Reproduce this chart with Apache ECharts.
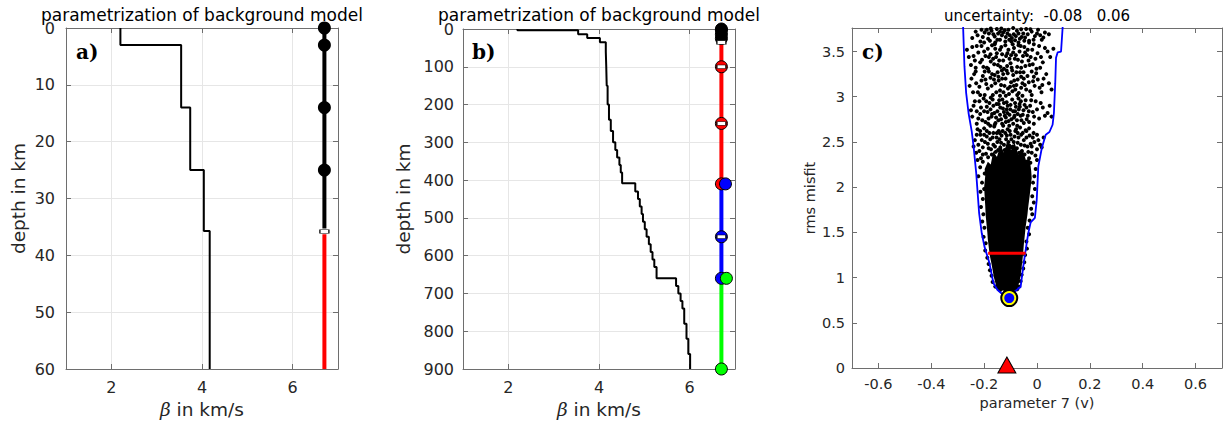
<!DOCTYPE html>
<html><head><meta charset="utf-8">
<script src="https://cdn.jsdelivr.net/npm/echarts@6/dist/echarts.min.js"></script>
<style>html,body{margin:0;padding:0;background:#fff}#c{width:1225px;height:427px}</style>
</head><body><div id="c"></div>
<script>
// ---------- panel a data ----------
const aTops = [0, 3, 14, 25, 35.7];
const aVel = [2.2, 3.54, 3.74, 4.04, 4.17];
const aBottom = 60;
const markX = 6.7;
const aNodeDepths = [0, 3, 14, 25];
const aBoundary = [35.8];
const aBlackSpan = [0, 35.3];
const aRedSpan = [36.3, 60];
const aXTicks = [2, 4, 6];
const aYTicks = [0, 10, 20, 30, 40, 50, 60];

// ---------- panel b data ----------
const bTops = [0,3,14,24,35, 60,100,150,200,240, 270,300,320,340,360, 380,408,430,450,470, 490,510,530,550,570, 590,610,630,660,680, 700,720,740,780,820, 860];
const bVel  = [2.2,3.54,3.74,4.02,4.15, 4.16,4.17,4.19,4.22,4.26, 4.31,4.36,4.40,4.45,4.48, 4.51,4.80,4.86,4.90,4.94, 4.97,5.01,5.05,5.10,5.14, 5.18,5.22,5.27,5.70,5.75, 5.80,5.84,5.88,5.93,5.97, 6.01];
const bBottom = 900;
const bBlackSpan = [0, 35];
const bBlackNodes = [0, 3, 14, 25];
const bBoundary = [35.7];
const bRedSpan = [40, 410];
const bRedNodes = [100, 250, 410];
const bRedDash = [100, 250];
const bBlueSpan = [410, 660];
const bBlueNodes = [550, 660];
const bBlueDash = [550];
const bBlueShifted = [[6.79, 410]];
const bGreenSpan = [660, 900];
const bGreenNodes = [900];
const bGreenShifted = [[6.81, 660]];
const bXTicks = [2, 4, 6];
const bYTicks = [0, 100, 200, 300, 400, 500, 600, 700, 800, 900];

// ---------- panel c data ----------
const cXTicks = [-0.6, -0.4, -0.2, 0, 0.2, 0.4, 0.6];
const cYTicks = [0, 0.5, 1, 1.5, 2, 2.5, 3, 3.5];
const envelope = [[-0.2795,3.80],[-0.2795,3.766],[-0.2745,3.335],[-0.268,3.04],[-0.259,2.82],[-0.247,2.616],[-0.240,2.45],[-0.230,2.155],[-0.219,1.713],[-0.209,1.49],[-0.199,1.345],[-0.180,1.16],[-0.165,0.94],[-0.150,0.865],[-0.135,0.827],[-0.105,0.80],[-0.072,0.873],[-0.0705,0.884],[-0.062,0.895],[-0.052,1.124],[-0.039,1.38],[-0.033,1.49],[-0.024,1.61],[-0.008,1.66],[-0.001,1.86],[0.005,2.23],[0.018,2.43],[0.033,2.58],[0.047,2.61],[0.059,2.69],[0.064,2.82],[0.069,3.15],[0.072,3.43],[0.078,3.49],[0.091,3.50],[0.097,3.766],[0.097,3.80]];
const redBar = [[-0.185,1.27],[-0.043,1.27]];
const bestPoint = [[-0.105, 0.773]];
const truePoint = [[-0.114, 0]];
const corePoly = [[-0.150,0.86],[-0.163,1.0],[-0.172,1.15],[-0.179,1.25],[-0.186,1.42],[-0.188,1.5],[-0.194,1.68],[-0.196,1.8],[-0.2,2.0],[-0.196,2.12],[-0.198,2.2],[-0.186,2.28],[-0.175,2.25],[-0.165,2.4],[-0.152,2.33],[-0.138,2.47],[-0.125,2.38],[-0.112,2.52],[-0.098,2.41],[-0.085,2.49],[-0.07,2.36],[-0.055,2.42],[-0.042,2.3],[-0.028,2.32],[-0.022,2.18],[-0.02,2.1],[-0.026,1.95],[-0.028,1.9],[-0.034,1.76],[-0.036,1.7],[-0.043,1.56],[-0.045,1.5],[-0.05,1.36],[-0.053,1.25],[-0.058,1.12],[-0.063,1.0],[-0.075,0.86]];
const cloudTop = [[-0.232,3.72],[-0.205,3.66],[-0.19,3.74],[-0.178,3.62],[-0.165,3.69],[-0.152,3.75],[-0.14,3.63],[-0.128,3.71],[-0.118,3.66],[-0.108,3.74],[-0.097,3.61],[-0.088,3.69],[-0.076,3.73],[-0.065,3.64],[-0.052,3.7],[-0.041,3.75],[-0.03,3.62],[-0.02,3.72],[-0.008,3.67],[0.004,3.74],[0.018,3.63],[-0.214,3.61],[-0.158,3.6],[-0.112,3.7],[-0.07,3.6],[-0.135,3.755],[-0.182,3.7],[-0.045,3.655],[0.03,3.71],[-0.095,3.65]];
const cloudTop2 = [[-0.225,3.68],[-0.198,3.71],[-0.185,3.64],[-0.172,3.73],[-0.16,3.665],[-0.147,3.7],[-0.133,3.68],[-0.122,3.735],[-0.103,3.68],[-0.083,3.625],[-0.07,3.7],[-0.058,3.66],[-0.035,3.69],[-0.025,3.745],[-0.013,3.63],[0.0,3.7],[0.012,3.68],[0.024,3.655],[-0.12,3.61],[-0.15,3.63],[-0.2,3.6],[-0.09,3.76],[-0.06,3.745],[-0.175,3.755],[-0.21,3.74],[-0.048,3.62],[-0.105,3.63],[-0.14,3.72],[0.045,3.69],[-0.245,3.65],[-0.08,3.67],[-0.03,3.6]];
const cloudUpper = [[-0.265,3.52],[-0.24,3.45],[-0.228,3.56],[-0.215,3.38],[-0.2,3.5],[-0.19,3.32],[-0.182,3.44],[-0.17,3.57],[-0.162,3.36],[-0.152,3.48],[-0.143,3.4],[-0.135,3.55],[-0.125,3.31],[-0.117,3.45],[-0.108,3.52],[-0.1,3.37],[-0.092,3.58],[-0.084,3.42],[-0.075,3.33],[-0.066,3.5],[-0.057,3.39],[-0.048,3.55],[-0.038,3.46],[-0.028,3.35],[-0.018,3.52],[-0.006,3.42],[0.008,3.56],[0.022,3.38],[0.04,3.5],[0.062,3.53],[-0.208,3.41],[-0.158,3.53],[-0.113,3.34],[-0.07,3.57],[-0.032,3.4],[-0.002,3.31],[-0.25,3.35],[-0.132,3.47],[-0.09,3.49],[-0.175,3.39]];
const cloudUpper2 = [[-0.258,3.44],[-0.245,3.55],[-0.235,3.4],[-0.222,3.49],[-0.21,3.56],[-0.203,3.33],[-0.195,3.45],[-0.186,3.53],[-0.176,3.47],[-0.166,3.42],[-0.16,3.58],[-0.148,3.35],[-0.14,3.52],[-0.128,3.4],[-0.12,3.57],[-0.112,3.48],[-0.104,3.42],[-0.096,3.32],[-0.087,3.54],[-0.08,3.46],[-0.072,3.41],[-0.062,3.56],[-0.053,3.45],[-0.044,3.34],[-0.035,3.52],[-0.024,3.44],[-0.012,3.58],[0.002,3.48],[0.015,3.44],[0.03,3.54],[0.05,3.44],[-0.185,3.31],[-0.138,3.33],[-0.06,3.32],[-0.016,3.36],[0.012,3.32],[-0.232,3.32],[-0.155,3.44],[-0.098,3.46],[-0.045,3.49]];
const cloudMidHigh = [[-0.255,3.12],[-0.238,3.25],[-0.224,3.05],[-0.21,3.18],[-0.198,3.28],[-0.186,3.09],[-0.176,3.21],[-0.167,3.02],[-0.158,3.15],[-0.149,3.27],[-0.14,3.07],[-0.132,3.2],[-0.123,3.12],[-0.115,3.29],[-0.106,3.03],[-0.098,3.16],[-0.09,3.24],[-0.082,3.08],[-0.073,3.19],[-0.064,3.27],[-0.055,3.01],[-0.046,3.13],[-0.036,3.23],[-0.026,3.06],[-0.015,3.17],[-0.003,3.26],[0.01,3.1],[0.025,3.2],[0.045,3.15],[-0.192,3.14],[-0.145,3.18],[-0.11,3.09],[-0.078,3.13],[-0.05,3.2],[-0.128,3.25],[-0.16,3.24],[-0.094,3.29],[-0.02,3.02],[-0.23,3.15],[-0.06,3.1],[-0.118,3.01]];
const cloudMidHigh2 = [[-0.248,3.2],[-0.242,3.05],[-0.232,3.28],[-0.218,3.11],[-0.205,3.23],[-0.198,3.02],[-0.182,3.28],[-0.172,3.12],[-0.163,3.19],[-0.154,3.05],[-0.146,3.22],[-0.136,3.13],[-0.127,3.05],[-0.119,3.2],[-0.111,3.26],[-0.102,3.11],[-0.093,3.06],[-0.086,3.18],[-0.078,3.27],[-0.069,3.04],[-0.06,3.22],[-0.051,3.27],[-0.041,3.08],[-0.031,3.16],[-0.02,3.28],[-0.009,3.12],[0.003,3.19],[0.017,3.05],[0.035,3.25],[0.055,3.08],[-0.215,3.02],[-0.17,3.25],[-0.133,3.29],[-0.088,3.12],[-0.055,3.15],[-0.012,3.22],[0.02,3.13],[-0.14,3.01],[-0.195,3.19],[-0.075,3.02]];
const cloudMid = [[-0.25,2.85],[-0.235,2.95],[-0.222,2.76],[-0.212,2.88],[-0.202,2.98],[-0.195,2.72],[-0.187,2.83],[-0.18,2.93],[-0.172,2.78],[-0.165,2.9],[-0.157,2.71],[-0.15,2.84],[-0.143,2.96],[-0.136,2.75],[-0.129,2.87],[-0.122,2.79],[-0.115,2.94],[-0.108,2.73],[-0.101,2.86],[-0.094,2.97],[-0.087,2.77],[-0.08,2.89],[-0.073,2.81],[-0.066,2.92],[-0.059,2.74],[-0.051,2.85],[-0.043,2.96],[-0.035,2.79],[-0.026,2.9],[-0.016,2.83],[-0.005,2.95],[0.008,2.76],[0.022,2.88],[0.04,2.82],[0.055,2.78],[-0.175,2.99],[-0.14,2.8],[-0.112,2.82],[-0.09,2.7],[-0.07,2.98],[-0.125,2.93],[-0.155,2.77],[-0.1,2.91],[-0.062,2.79],[-0.04,2.88],[-0.19,2.89],[-0.215,2.81],[-0.03,2.72],[-0.118,2.72],[-0.083,2.84]];
const cloudMid2 = [[-0.245,2.78],[-0.24,2.9],[-0.228,2.84],[-0.218,2.95],[-0.207,2.74],[-0.2,2.84],[-0.192,2.95],[-0.183,2.76],[-0.176,2.86],[-0.168,2.97],[-0.161,2.82],[-0.153,2.92],[-0.146,2.74],[-0.139,2.88],[-0.131,2.97],[-0.125,2.83],[-0.118,2.77],[-0.111,2.9],[-0.104,2.8],[-0.097,2.75],[-0.09,2.84],[-0.083,2.93],[-0.076,2.74],[-0.069,2.86],[-0.061,2.95],[-0.054,2.8],[-0.047,2.91],[-0.039,2.75],[-0.031,2.84],[-0.022,2.96],[-0.011,2.78],[0.0,2.86],[0.014,2.93],[0.03,2.79],[0.048,2.9],[-0.132,2.7],[-0.16,2.69],[-0.075,2.68],[-0.05,2.71],[-0.105,2.68],[-0.185,2.7],[-0.012,2.7],[-0.228,2.7],[-0.145,2.92],[-0.065,2.89],[-0.115,2.86],[-0.085,2.79],[-0.17,2.81]];
const cloudLow = [[-0.24,2.45],[-0.228,2.58],[-0.218,2.4],[-0.209,2.52],[-0.2,2.65],[-0.193,2.37],[-0.186,2.48],[-0.18,2.6],[-0.174,2.42],[-0.168,2.55],[-0.162,2.67],[-0.156,2.39],[-0.15,2.5],[-0.145,2.62],[-0.139,2.44],[-0.134,2.57],[-0.128,2.68],[-0.122,2.41],[-0.117,2.53],[-0.111,2.64],[-0.105,2.46],[-0.1,2.58],[-0.094,2.38],[-0.088,2.5],[-0.082,2.62],[-0.076,2.43],[-0.07,2.55],[-0.064,2.66],[-0.057,2.4],[-0.05,2.52],[-0.043,2.63],[-0.036,2.45],[-0.028,2.57],[-0.02,2.38],[-0.01,2.5],[0.0,2.42],[0.012,2.47],[0.025,2.55],[-0.205,2.44],[-0.19,2.56],[-0.165,2.47],[-0.142,2.53],[-0.12,2.6],[-0.097,2.44],[-0.073,2.6],[-0.047,2.36],[-0.03,2.65],[-0.215,2.62],[-0.177,2.68],[-0.085,2.4],[-0.06,2.58],[-0.013,2.6],[-0.133,2.36],[-0.152,2.6]];
const cloudLow2 = [[-0.235,2.52],[-0.23,2.38],[-0.222,2.47],[-0.214,2.58],[-0.205,2.36],[-0.197,2.5],[-0.19,2.62],[-0.183,2.43],[-0.177,2.53],[-0.171,2.36],[-0.165,2.6],[-0.159,2.45],[-0.153,2.55],[-0.147,2.41],[-0.141,2.6],[-0.136,2.49],[-0.13,2.62],[-0.125,2.47],[-0.119,2.39],[-0.114,2.57],[-0.108,2.5],[-0.103,2.62],[-0.097,2.53],[-0.091,2.45],[-0.085,2.56],[-0.079,2.64],[-0.073,2.49],[-0.067,2.38],[-0.061,2.47],[-0.054,2.6],[-0.047,2.46],[-0.04,2.55],[-0.033,2.39],[-0.024,2.48],[-0.016,2.55],[-0.006,2.35],[0.005,2.52],[0.018,2.44],[-0.212,2.32],[-0.185,2.33],[-0.16,2.33],[-0.11,2.35],[-0.08,2.33],[-0.055,2.32],[-0.03,2.32],[0.0,2.58],[-0.02,2.45],[-0.225,2.64],[-0.2,2.58],[-0.04,2.62]];
const cloudEdgeL = [[-0.225,2.3],[-0.215,2.22],[-0.222,2.12],[-0.208,2.05],[-0.214,1.95],[-0.205,1.87],[-0.212,1.78],[-0.203,1.7],[-0.207,1.62],[-0.199,1.55],[-0.202,1.45],[-0.194,1.38],[-0.196,1.3],[-0.188,1.22],[-0.183,1.15],[-0.178,1.08],[-0.172,1.02],[-0.168,0.95],[-0.158,0.9],[-0.205,2.28],[-0.198,2.15],[-0.2,1.98]];
const cloudEdgeR = [[0.0,2.3],[-0.005,2.2],[-0.01,2.12],[-0.015,2.05],[-0.008,1.98],[-0.018,1.9],[-0.012,1.83],[-0.022,1.76],[-0.018,1.7],[-0.028,1.63],[-0.035,1.55],[-0.03,1.48],[-0.04,1.4],[-0.038,1.32],[-0.045,1.25],[-0.048,1.17],[-0.052,1.1],[-0.058,1.03],[-0.062,0.96],[-0.068,0.9],[-0.025,2.27],[-0.03,2.1]];
const cloudBottom = [[-0.14,0.86],[-0.12,0.85],[-0.09,0.85],[-0.075,0.87],[-0.13,0.88],[-0.1,0.87]];

// ---------- helpers ----------
const FONT = 'DejaVu Sans';
const AX = '#6e6e6e', TXT = '#262626', GRIDC = '#e6e6e6';
function stepPts(tops, vels, bottom) {
  const p = [];
  for (let i = 0; i < tops.length; i++) {
    const b = i + 1 < tops.length ? tops[i + 1] : bottom;
    p.push([vels[i], tops[i]]); p.push([vels[i], b]);
  }
  return p;
}
function xAxes(gi, min, max, ticks, o) {
  const base = {gridIndex: gi, type: 'value', min: min, max: max,
    axisLine: {show: true, onZero: false, lineStyle: {color: AX, width: 1}},
    axisTick: {show: true, inside: true, length: 5, customValues: ticks, lineStyle: {color: AX}}};
  return [
    Object.assign({}, base, {position: 'bottom',
      axisLabel: {customValues: ticks, fontSize: o.fs, color: TXT, fontFamily: FONT, margin: o.lm},
      splitLine: {show: o.grid, lineStyle: {color: GRIDC}},
      name: o.name, nameLocation: 'middle', nameGap: o.ng,
      nameTextStyle: {fontSize: o.nfs, color: TXT, fontFamily: FONT,
        rich: {b: {fontStyle: 'italic', fontFamily: 'DejaVu Serif', fontSize: o.nfs, color: TXT}}}}),
    Object.assign({}, base, {position: 'top', axisLabel: {show: false}, splitLine: {show: false}})
  ];
}
function yAxes(gi, min, max, ticks, o) {
  const base = {gridIndex: gi, type: 'value', min: min, max: max, inverse: o.inv,
    axisLine: {show: true, onZero: false, lineStyle: {color: AX, width: 1}},
    axisTick: {show: true, inside: true, length: 5, customValues: ticks, lineStyle: {color: AX}}};
  return [
    Object.assign({}, base, {position: 'left',
      axisLabel: {customValues: ticks, fontSize: o.fs, color: TXT, fontFamily: FONT, margin: o.lm},
      splitLine: {show: o.grid, lineStyle: {color: GRIDC}},
      name: o.name, nameLocation: 'middle', nameGap: o.ng, nameRotate: 90,
      nameTextStyle: {fontSize: o.nfs, color: TXT, fontFamily: FONT}}),
    Object.assign({}, base, {position: 'right', axisLabel: {show: false}, splitLine: {show: false}})
  ];
}
function vline(xi, x, span, color) {
  return {type: 'line', xAxisIndex: xi, yAxisIndex: xi, data: [[x, span[0]], [x, span[1]]],
    showSymbol: false, lineStyle: {color: color, width: 4}, z: 3, silent: true};
}
function dots(xi, pts, color, size, z, border) {
  return {type: 'scatter', xAxisIndex: xi, yAxisIndex: xi, data: pts, symbol: 'circle', symbolSize: size,
    itemStyle: {color: color, borderColor: '#000', borderWidth: border ? 1 : 0, opacity: 1}, z: z, clip: false, silent: true};
}
function dashes(xi, pts, z) {
  return {type: 'scatter', xAxisIndex: xi, yAxisIndex: xi, data: pts, symbol: 'rect', symbolSize: [9, 3.5],
    itemStyle: {color: '#fff', borderColor: '#000', borderWidth: 0.8, opacity: 1}, z: z, clip: false, silent: true};
}
const atX = (arr) => arr.map(d => [markX, d]);

const xA = xAxes(0, 1, 7, aXTicks, {fs: 16, lm: 10, grid: true, name: '{b|β} in km/s', ng: 31, nfs: 18.5});
const xB = xAxes(1, 1, 7, bXTicks, {fs: 16, lm: 10, grid: true, name: '{b|β} in km/s', ng: 31, nfs: 18.5});
const xC = xAxes(2, -0.7, 0.7, cXTicks, {fs: 14.5, lm: 8, grid: false, name: 'parameter 7 (v)', ng: 26, nfs: 14.5});
const yA = yAxes(0, 0, 60, aYTicks, {fs: 16, lm: 11, grid: true, inv: true, name: 'depth in km', ng: 38, nfs: 18.5});
const yB = yAxes(1, 0, 900, bYTicks, {fs: 16, lm: 9, grid: true, inv: true, name: 'depth in km', ng: 50, nfs: 18.5});
const yC = yAxes(2, 0, 3.76, cYTicks, {fs: 14.5, lm: 7, grid: false, inv: false, name: 'rms misfit', ng: 35, nfs: 14.5});

const cloud = [].concat(cloudTop, cloudTop2, cloudUpper, cloudUpper2, cloudMidHigh, cloudMidHigh2,
  cloudMid, cloudMid2, cloudLow, cloudLow2, cloudEdgeL, cloudEdgeR, cloudBottom);

const option = {
  animation: false,
  backgroundColor: '#fff',
  grid: [
    {left: 66, top: 28, width: 272, height: 341},
    {left: 463, top: 29, width: 272, height: 340},
    {left: 852, top: 28, width: 370, height: 340}
  ],
  xAxis: [].concat(xA, xB, xC),
  yAxis: [].concat(yA, yB, yC),
  graphic: [
    {type: 'text', x: 202, y: 15, z: 1, style: {text: 'parametrization of background model', font: '17px "DejaVu Sans"', fill: '#000', textAlign: 'center', textVerticalAlign: 'middle'}},
    {type: 'text', x: 599, y: 15, z: 1, style: {text: 'parametrization of background model', font: '17px "DejaVu Sans"', fill: '#000', textAlign: 'center', textVerticalAlign: 'middle'}},
    {type: 'text', x: 1037, y: 16, z: 1, style: {text: 'uncertainty:  -0.08   0.06', font: '15px "DejaVu Sans"', fill: '#000', textAlign: 'center', textVerticalAlign: 'middle'}},
    {type: 'text', x: 76, y: 52, z: 10, style: {text: 'a)', font: 'bold 20px "DejaVu Serif"', fill: '#000', textAlign: 'left', textVerticalAlign: 'middle'}},
    {type: 'text', x: 472, y: 52, z: 10, style: {text: 'b)', font: 'bold 20px "DejaVu Serif"', fill: '#000', textAlign: 'left', textVerticalAlign: 'middle'}},
    {type: 'text', x: 862, y: 52, z: 10, style: {text: 'c)', font: 'bold 20px "DejaVu Serif"', fill: '#000', textAlign: 'left', textVerticalAlign: 'middle'}}
  ],
  series: [
    // panel a
    {type: 'line', xAxisIndex: 0, yAxisIndex: 0, data: stepPts(aTops, aVel, aBottom), showSymbol: false,
      lineStyle: {color: '#000', width: 2}, z: 2, silent: true},
    vline(0, markX, aBlackSpan, '#000'),
    vline(0, markX, aRedSpan, '#ff0000'),
    dots(0, atX(aNodeDepths), '#000', 13, 5, false),
    dashes(0, atX(aBoundary), 6),
    // panel b
    {type: 'line', xAxisIndex: 2, yAxisIndex: 2, data: stepPts(bTops, bVel, bBottom), showSymbol: false,
      lineStyle: {color: '#000', width: 2}, z: 2, silent: true},
    vline(2, markX, bBlackSpan, '#000'),
    vline(2, markX, bRedSpan, '#ff0000'),
    vline(2, markX, bBlueSpan, '#0000ff'),
    vline(2, markX, bGreenSpan, '#00ff00'),
    dots(2, atX(bBlackNodes), '#000', 12, 5, true),
    dashes(2, atX(bBoundary), 6),
    dots(2, atX(bRedNodes), '#ff0000', 12, 5, true),
    dots(2, atX(bBlueNodes), '#0000ff', 12, 5, true),
    dots(2, atX(bGreenNodes), '#00ff00', 12, 5, true),
    dashes(2, atX(bRedDash.concat(bBlueDash)), 6),
    dots(2, bBlueShifted, '#0000ff', 12, 7, true),
    dots(2, bGreenShifted, '#00ff00', 12, 7, true),
    // panel c
    {type: 'custom', xAxisIndex: 4, yAxisIndex: 4, data: [0], silent: true, z: 2,
      renderItem: function (params, api) {
        return {type: 'polygon', shape: {points: corePoly.map(p => api.coord(p))}, style: {fill: '#000'}};
      }},
    {type: 'scatter', xAxisIndex: 4, yAxisIndex: 4, data: cloud, symbol: 'circle', symbolSize: 4,
      itemStyle: {color: '#000', opacity: 1}, z: 3, silent: true},
    {type: 'line', xAxisIndex: 4, yAxisIndex: 4, data: envelope, showSymbol: false, clip: true,
      lineStyle: {color: '#0000ff', width: 1.8}, z: 4, silent: true},
    {type: 'line', xAxisIndex: 4, yAxisIndex: 4, data: redBar, showSymbol: false,
      lineStyle: {color: '#ff0000', width: 3}, z: 5, silent: true},
    {type: 'scatter', xAxisIndex: 4, yAxisIndex: 4, data: bestPoint, symbol: 'circle', symbolSize: 18,
      itemStyle: {color: '#000', opacity: 1}, z: 6, silent: true},
    {type: 'scatter', xAxisIndex: 4, yAxisIndex: 4, data: bestPoint, symbol: 'circle', symbolSize: 14,
      itemStyle: {color: '#ffff00', opacity: 1}, z: 7, silent: true},
    {type: 'scatter', xAxisIndex: 4, yAxisIndex: 4, data: bestPoint, symbol: 'circle', symbolSize: 10,
      itemStyle: {color: '#0000ff', opacity: 1}, z: 8, silent: true},
    {type: 'scatter', xAxisIndex: 4, yAxisIndex: 4, data: truePoint, symbol: 'triangle', symbolSize: [18, 16],
      symbolOffset: [0, -3], clip: false,
      itemStyle: {color: '#ff0000', borderColor: '#000', borderWidth: 1, opacity: 1}, z: 9, silent: true}
  ]
};
const chart = echarts.init(document.getElementById('c'), null, {renderer: 'svg'});
chart.setOption(option);
</script></body></html>
